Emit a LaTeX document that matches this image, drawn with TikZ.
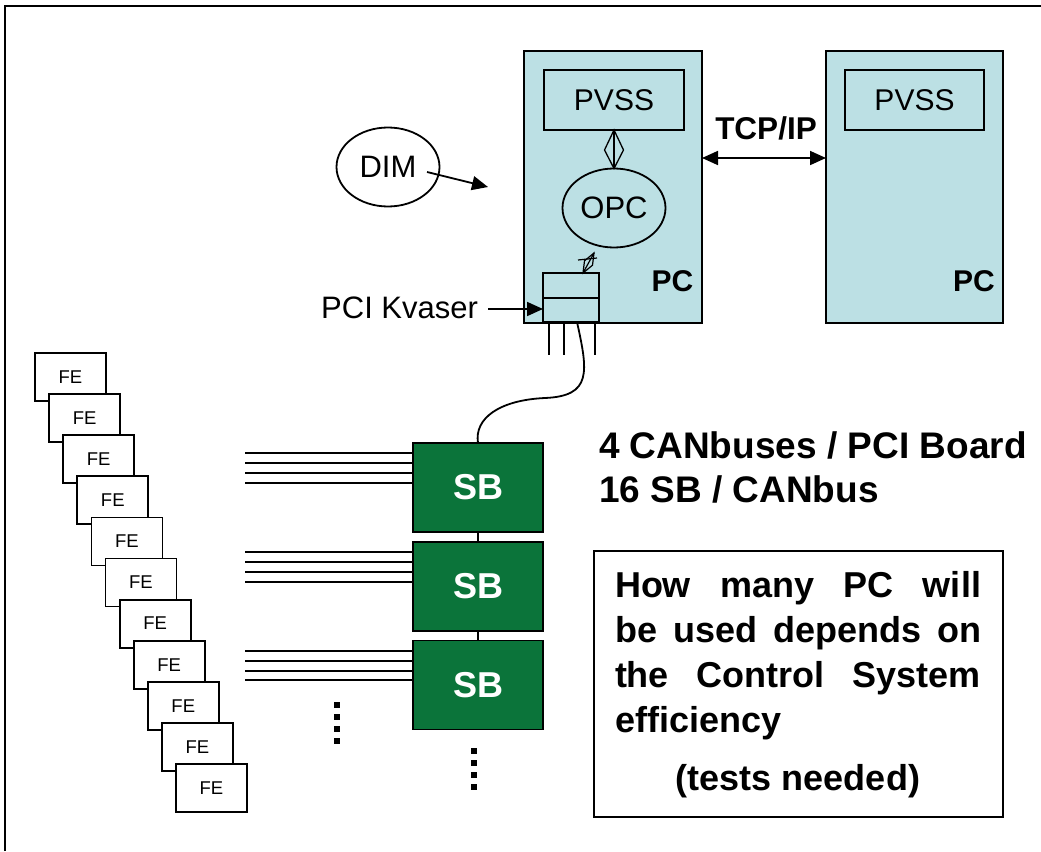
\documentclass[tikz,border=0pt]{standalone}
\usepackage{fontspec}
\setmainfont{Liberation Sans}
\usetikzlibrary{shapes.geometric,arrows.meta}
\definecolor{pcblue}{RGB}{188,224,228}
\definecolor{sbgreen}{RGB}{11,116,58}
\begin{document}
\begin{tikzpicture}[x=1pt,y=-1pt,line width=1.8pt,
  every node/.style={inner sep=0pt,outer sep=0pt},
  pcbox/.style={draw,fill=pcblue,minimum width=178pt,minimum height=272pt},
  pvssbox/.style={draw,fill=pcblue,minimum width=140pt,minimum height=60pt,font=\fontsize{30}{36}\selectfont},
  oval/.style={draw,ellipse,minimum width=103pt,minimum height=79pt,font=\fontsize{31}{36}\selectfont},
  sbbox/.style={draw,fill=sbgreen,minimum width=130pt,minimum height=89pt,text=white,font=\fontsize{36}{40}\selectfont\bfseries},
  febox/.style={draw,fill=white,minimum width=71pt,minimum height=48pt,font=\fontsize{18.5}{20}\selectfont},
  boldlbl/.style={font=\fontsize{30}{36}\selectfont\bfseries},
  normlbl/.style={font=\fontsize{31}{36}\selectfont},
  bigtxt/.style={font=\fontsize{36}{43}\selectfont\bfseries,anchor=base west},
  tipto/.style={-{Triangle[length=16pt,width=14pt]}},
  tipboth/.style={{Triangle[length=16pt,width=14pt]}-{Triangle[length=16pt,width=14pt]}},
  dotsq/.style={fill=black}
]
\useasboundingbox (0,0) rectangle (1041,851);
% frame
\draw[line width=2.4pt] (5,851) -- (5,6) -- (1041,6);

% PCs
\node[pcbox] (pc1) at (613,187) {};
\node[pcbox,minimum width=177pt] (pc2) at (914.5,187) {};
\node[pvssbox] (pvss1) at (614,100) {PVSS};
\node[pvssbox,minimum width=139pt] (pvss2) at (914.5,100) {PVSS};
\node[boldlbl] (pc1l) at (672.5,281) {PC};
\node[boldlbl] (pc2l) at (974,281) {PC};
\node[oval] (opc) at (614,208) {OPC};
\node[oval,fill=white] (dim) at (388,167) {DIM};

% TCP/IP
\coordinate (tcpy) at (0,158);
\draw[tipboth] (pc1.east |- tcpy) -- (pc2.west |- tcpy);
\node[boldlbl,font=\fontsize{31.5}{36}\selectfont\bfseries] (tcp) at (766,128) {TCP/IP};

% DIM arrow
\coordinate (dimS) at (427,172);
\coordinate (dimE) at (488,187);
\draw[tipto] (dimS) -- (dimE);

% PVSS <-> OPC diamond link
\draw[line width=1.3pt,line join=miter] (pvss1.south) -- (604.5,150) -- (opc.north) -- (623.5,150) -- cycle;
\draw[line width=1.3pt] (pvss1.south) -- (opc.north);

% PCI board
\node[draw,fill=pcblue,minimum width=56pt,minimum height=49pt] (board) at (571,297.5) {};
\draw (board.west |- 0,298) -- (board.east |- 0,298);
% small symbol above board
\draw[line width=1.2pt] (583,273) -- (584.5,260.8) -- (594,253) -- (592.5,265.2) -- cycle;
\draw[line width=1.2pt] (583,273) -- (594,253);
\draw[line width=1.2pt] (578,260) -- (597,258);

% PCI Kvaser label
\node[normlbl,anchor=base east] (kv) at (478,318) {PCI Kvaser};
\coordinate (kvs) at (488,309);
\draw[tipto] (kvs) -- (kvs -| board.west);

% board cables
\foreach \xx/\nm in {549/a,564/b,595/c} {
  \coordinate (ct\nm) at (\xx,322);
  \coordinate (cb\nm) at (\xx,355);
  \draw (ct\nm) -- (cb\nm);
}

% SB boxes
\node[sbbox] (sb1) at (478,487.5) {SB};
\node[sbbox] (sb2) at (478,586.5) {SB};
\node[sbbox] (sb3) at (478,685) {SB};
\draw (sb1.south) -- (sb2.north);
\draw (sb2.south) -- (sb3.north);

% CAN cable
\coordinate (cs) at (577,322);
\draw (cs) .. controls (588,372) and (592,396) .. (545,398)
      .. controls (500,400) and (474,418) .. (sb1.north);

% FE lines
\foreach \yy in {453,463,473,483} {
  \coordinate (l) at (245,\yy);
  \draw (l) -- (l -| sb1.west);
}
\foreach \yy in {552,562,572,582} {
  \coordinate (l) at (245,\yy);
  \draw (l) -- (l -| sb2.west);
}
\foreach \yy in {651,661,671,680} {
  \coordinate (l) at (245,\yy);
  \draw (l) -- (l -| sb3.west);
}

% FE stack
\foreach \i in {0,...,10} {
  \node[febox] (fe\i) at ({70.5+14.1*\i},{377+41.1*\i}) {FE};
}

% dots
\foreach \yy in {705,717,729,741} {
  \fill[dotsq] (334,\yy-3) rectangle (340,\yy+3);
}
\foreach \yy in {751,763,775,787} {
  \fill[dotsq] (471,\yy-3) rectangle (477,\yy+3);
}

% right texts
\node[bigtxt,font=\fontsize{37}{43}\selectfont\bfseries] (t1) at (599,458) {4 CANbuses / PCI Board};
\node[bigtxt,font=\fontsize{37}{43}\selectfont\bfseries] (t2) at (599,502) {16 SB / CANbus};

\node[draw,minimum width=409pt,minimum height=266pt] (note) at (798.5,684) {};
\node[bigtxt] (n1) at (615,597) {\makebox[366pt][s]{How many PC will}};
\node[bigtxt] (n2) at (615,642) {\makebox[366pt][s]{be used depends on}};
\node[bigtxt] (n3) at (615,687) {\makebox[366pt][s]{the Control System}};
\node[bigtxt] (n4) at (615,732) {efficiency};
\node[bigtxt,anchor=base] (n5) at (798,790) {(tests needed)};
\end{tikzpicture}
\end{document}
